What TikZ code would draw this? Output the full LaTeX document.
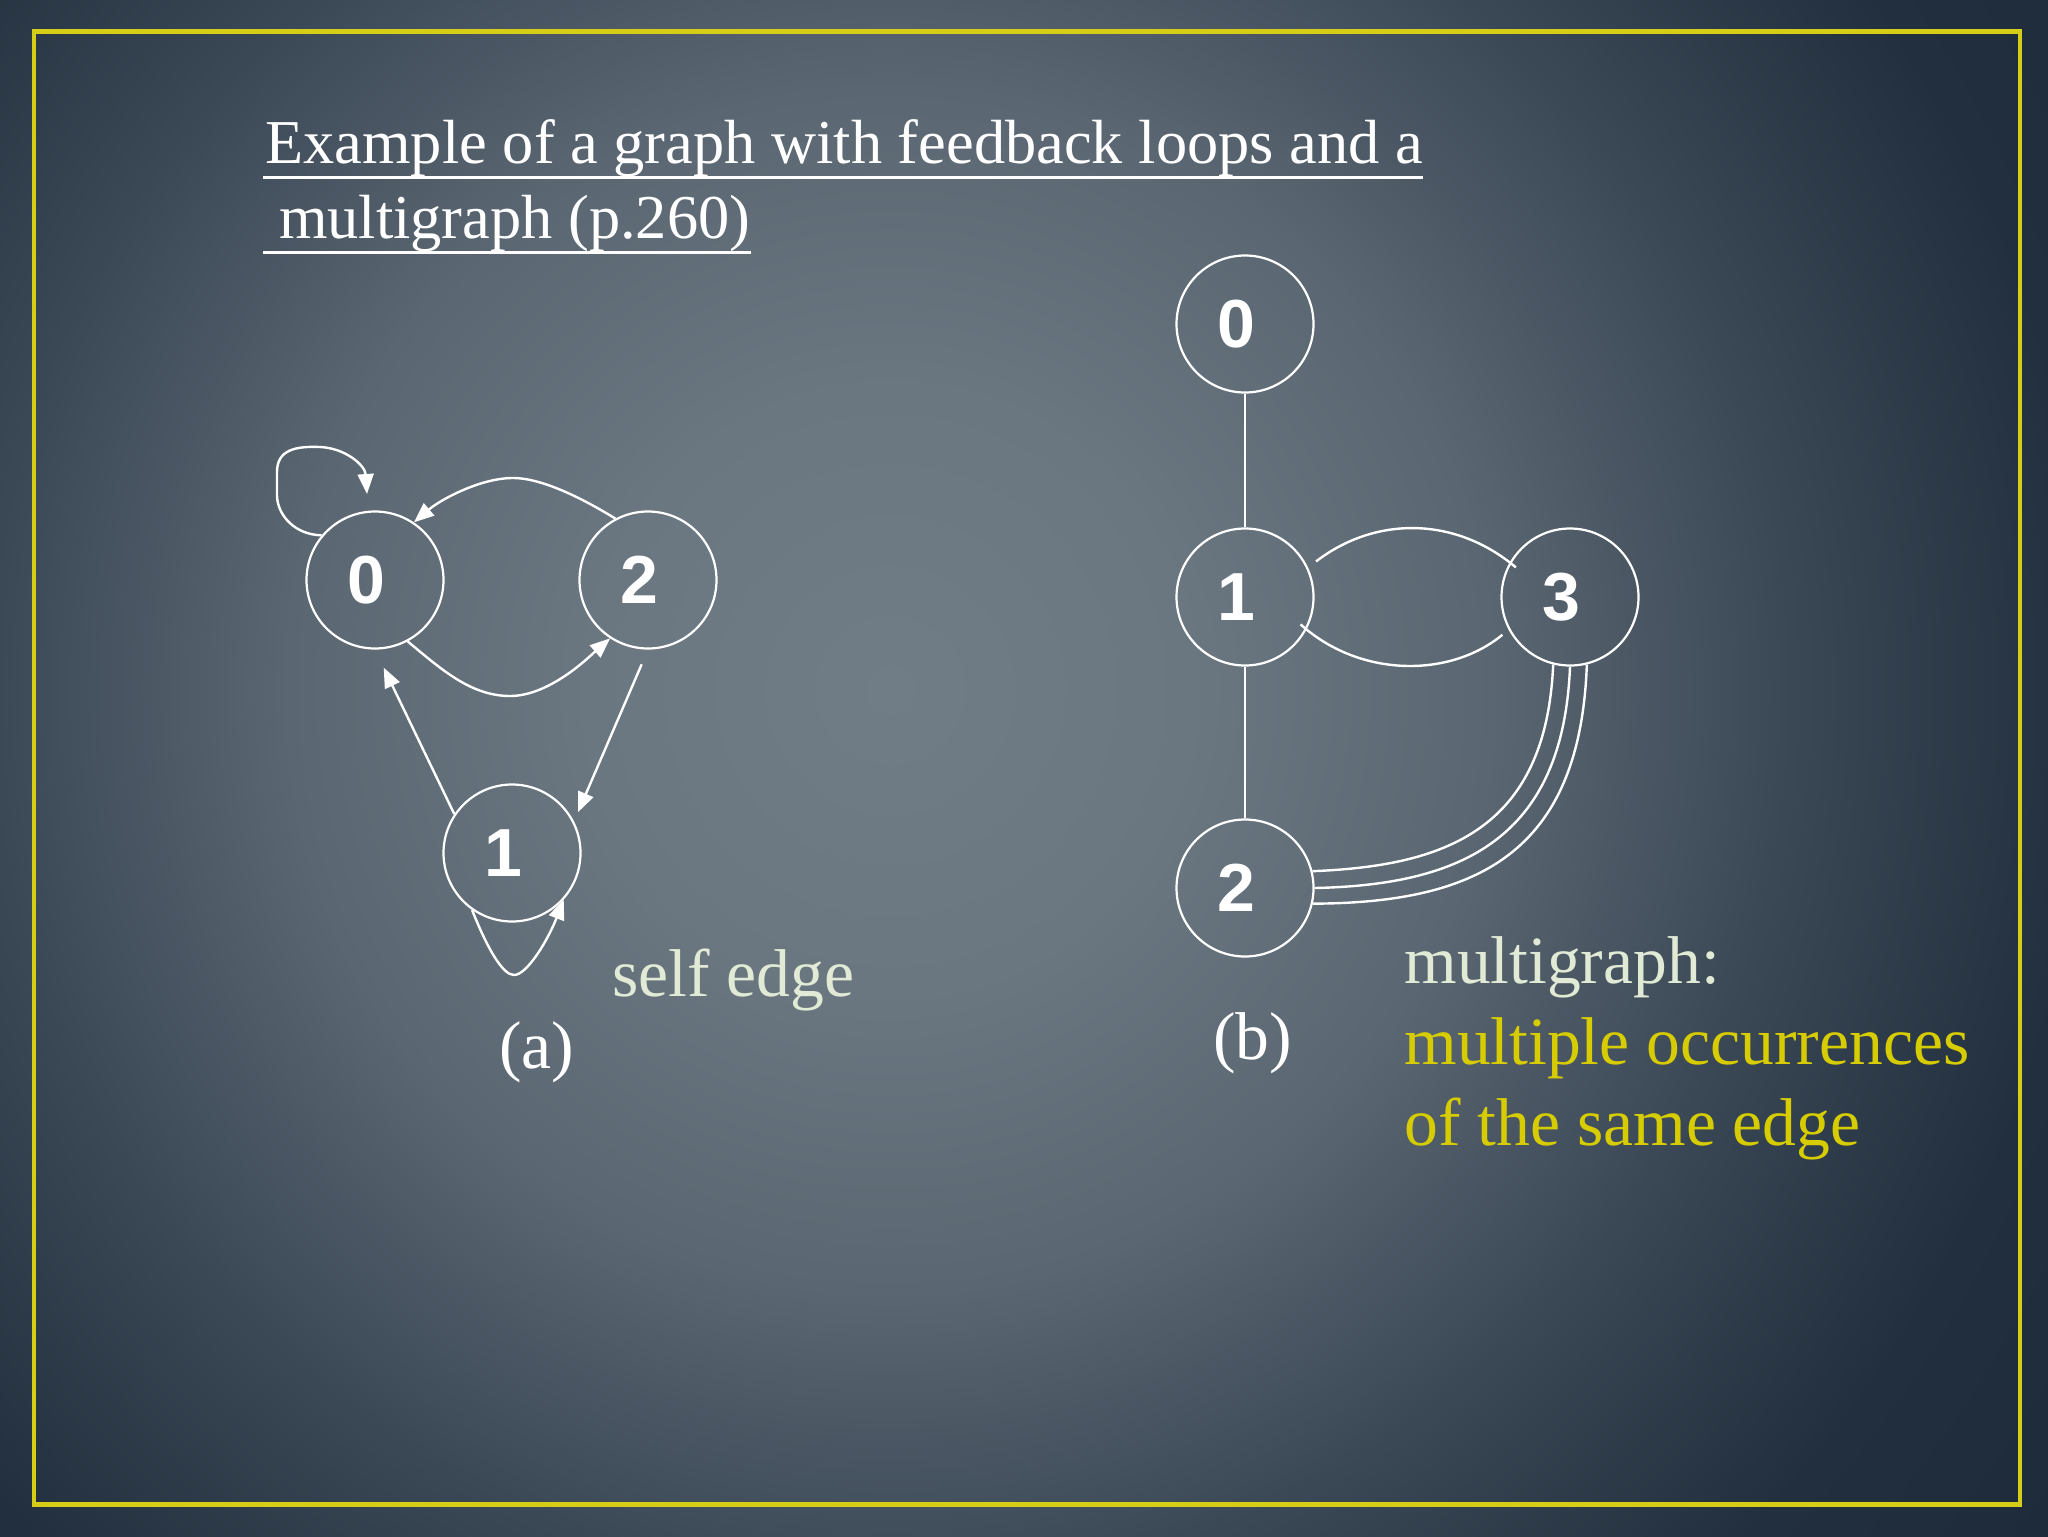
\documentclass[tikz,border=0pt]{standalone}
\usepackage{fontspec}
\setmainfont{Liberation Serif}
\newfontfamily\dgfont{Liberation Sans}
\usetikzlibrary{arrows.meta,calc}
\definecolor{bgA}{RGB}{112,124,134}
\definecolor{bgB}{RGB}{106,118,128}
\definecolor{bgC}{RGB}{90,102,113}
\definecolor{bgD}{RGB}{58,71,85}
\definecolor{bgE}{RGB}{33,47,62}
\definecolor{bgF}{RGB}{26,40,55}
\definecolor{frameyellow}{RGB}{214,206,22}
\definecolor{paletext}{RGB}{224,234,212}
\definecolor{yeltext}{RGB}{214,204,0}
\pgfdeclareradialshading{bgshade}{\pgfpoint{0bp}{0bp}}{color(0bp)=(bgA); color(150bp)=(bgB); color(300bp)=(bgC); color(450bp)=(bgD); color(600bp)=(bgE); color(800bp)=(bgF)}
\tikzset{
  vtx/.style={circle, draw=white, line width=1.1pt, minimum size=68.5pt, inner sep=0pt, text=white,
    font=\dgfont\bfseries\fontsize{34pt}{34pt}\selectfont},
  edge/.style={draw=white, line width=1.2pt},
  arr/.style={edge, -{Triangle[length=10pt,width=8pt]}},
  txt/.style={inner sep=0pt, anchor=base west},
  titlefont/.style={font=\fontsize{31.2pt}{37pt}\selectfont, text=white},
  bodyfont/.style={font=\fontsize{33.8pt}{40pt}\selectfont},
  uline/.style={draw=white, line width=1.5pt}
}
\begin{document}
\begin{tikzpicture}[x=0.5pt, y=-0.5pt]
\useasboundingbox (0,0) rectangle (2048,1536);
\begin{scope}
\clip (0,0) rectangle (2048,1536);
\pgftext[at=\pgfpointxy{890}{690}]{\pgfuseshading{bgshade}}
\end{scope}
\draw[frameyellow, line width=2.25pt] (34,31.5) rectangle (2020,1504.5);

% title
\node[txt, titlefont] (t1) at (265,163) {Example of a graph with feedback loops and a};
\node[txt, titlefont] (t2) at (263,238) {\ multigraph (p.260)};
\draw[uline] ($(t1.base west)+(-2,14)$) -- ($(t1.base east)+(0,14)$);
\draw[uline] ($(t2.base west)+(0,14)$) -- ($(t2.base east)+(0,14)$);

% graph (a)
\node[vtx] (a0) at (375,580) {0\kern8.5pt};
\node[vtx] (a2) at (648,580) {2\kern8.5pt};
\node[vtx] (a1) at (512,853) {1\kern8.5pt};
\coordinate (a0tip) at (367,494);
\draw[arr] (a0.140) .. controls (295,535) and (277,515) .. (277,495) -- (277,472)
  .. controls (277,450) and (295,446) .. (320,447) .. controls (345,448) and (365,465) .. (a0tip);
\draw[arr] (a2.118) .. controls (590,503) and (545,478) .. (513,478) .. controls (480,478) and (440,500) .. (a0.56);
\draw[arr] (a0.-62) .. controls (440,668) and (470,696) .. (510,696) .. controls (550,696) and (590,656) .. (a2.-123);
\draw[arr, shorten >=10pt] (a1.146) -- (a0.-90);
\draw[arr, shorten <=8pt, shorten >=5pt] (a2.-90) -- (a1.27);
\draw[arr] (a1.235) .. controls (488,950) and (503,975) .. (514,975) .. controls (527,975) and (548,940) .. (a1.-42);

% graph (b)
\node[vtx] (b0) at (1245,324) {0\kern8.5pt};
\node[vtx] (b1) at (1245,597) {1\kern8.5pt};
\node[vtx] (b3) at (1570,597) {3\kern8.5pt};
\node[vtx] (b2) at (1245,888) {2\kern8.5pt};
\draw[edge] (b0) -- (b1);
\draw[edge] (b1) -- (b2);
\draw[edge, shorten <=5pt, shorten >=-4pt] (b1.25) .. controls (1375,516) and (1455,516) .. (b3.150);
\draw[edge, shorten <=-4pt, shorten >=4pt] (b1.-28) .. controls (1360,678) and (1450,678) .. (b3.-152);
\draw[edge] (b3.-104) .. controls (1546,830) and (1445,866) .. (b2.14);
\draw[edge] (b3.-90) .. controls (1563,840) and (1460,885) .. (b2.0);
\draw[edge] (b3.-76) .. controls (1580,855) and (1475,903) .. (b2.-13);

% texts
\node[txt, bodyfont, text=paletext] (selfedge) at (612,996) {self edge};
\node[txt, bodyfont, text=white] (capa) at (499,1068) {(a)};
\node[txt, bodyfont, text=white] (capb) at (1213,1059) {(b)};
\node[txt, bodyfont, text=paletext] (mg) at (1404,983) {multigraph:};
\node[txt, bodyfont, text=yeltext] (mo1) at (1404,1064) {multiple occurrences};
\node[txt, bodyfont, text=yeltext] (mo2) at (1404,1145) {of the same edge};
\end{tikzpicture}
\end{document}
